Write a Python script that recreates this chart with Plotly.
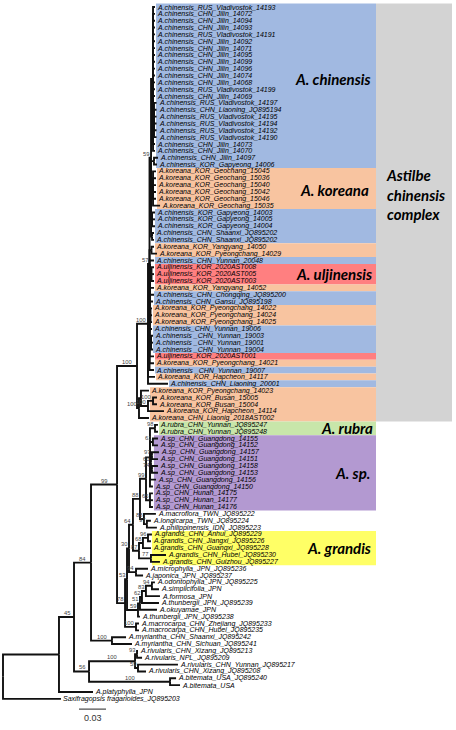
import plotly.graph_objects as go

# ---------------- data ----------------
TIP_LABELS = [
    "A.chinensis_RUS_Vladivostok_14193", "A.chinensis_CHN_Jilin_14072", "A.chinensis_CHN_Jilin_14094",
    "A.chinensis_CHN_Jilin_14093", "A.chinensis_RUS_Vladivostok_14191", "A.chinensis_CHN_Jilin_14092",
    "A.chinensis_CHN_Jilin_14071", "A.chinensis_CHN_Jilin_14095", "A.chinensis_CHN_Jilin_14099",
    "A.chinensis_CHN_Jilin_14096", "A.chinensis_CHN_Jilin_14074", "A.chinensis_CHN_Jilin_14068",
    "A.chinensis_RUS_Vladivostok_14199", "A.chinensis_CHN_Jilin_14069", "A.chinensis_RUS_Vladivostok_14197",
    "A.chinensis_CHN_Liaoning_JQ895194", "A.chinensis_RUS_Vladivostok_14195", "A.chinensis_RUS_Vladivostok_14194",
    "A.chinensis_RUS_Vladivostok_14192", "A.chinensis_RUS_Vladivostok_14190", "A.chinensis_CHN_Jilin_14073",
    "A.chinensis_CHN_Jilin_14070", "A.chinensis_CHN_Jilin_14097", "A.chinensis_KOR_Gapyeong_14006",
    "A.koreana_KOR_Geochang_15045", "A.koreana_KOR_Geochang_15036", "A.koreana_KOR_Geochang_15040",
    "A.koreana_KOR_Geochang_15042", "A.koreana_KOR_Geochang_15046", "A.koreana_KOR_Geochang_15035",
    "A.chinensis_KOR_Gapyeong_14003", "A.chinensis_KOR_Gapyeong_14005", "A.chinensis_KOR_Gapyeong_14004",
    "A.chinensis_CHN_Shaanxi_JQ895202", "A.chinensis_CHN_Shaanxi_JQ895202", "A.koreana_KOR_Yangyang_14050",
    "A.koreana_KOR_Pyeongchang_14029", "A.chinensis_CHN_Yunnan_20048", "A.uljinensis_KOR_2020AST008",
    "A.uljinensis_KOR_2020AST005", "A.uljinensis_KOR_2020AST003", "A.koreana_KOR_Yangyang_14052",
    "A.chinensis_CHN_Chongqing_JQ895200", "A.chinensis_CHN_Gansu_JQ895198", "A.koreana_KOR_Pyeongchang_14022",
    "A.koreana_KOR_Pyeongchang_14024", "A.koreana_KOR_Pyeongchang_14025", "A.chinensis_CHN_Yunnan_19006",
    "A.chinensis _CHN_Yunnan_19003", "A.chinensis _CHN_Yunnan_19001", "A.chinensis _CHN_Yunnan_19004",
    "A.uljinensis_KOR_2020AST001", "A.koreana_KOR_Pyeongchang_14021", "A.chinensis _CHN_Yunnan_19007",
    "A.koreana_KOR_Hapcheon_14117", "A.chinensis_CHN_Liaoning_20001", "A.koreana_KOR_Pyeongchang_14023",
    "A.koreana_KOR_Busan_15005", "A.koreana_KOR_Busan_15004", "A.koreana_KOR_Hapcheon_14114",
    "A.koreana_CHN_Liaonig_2018AST002", "A.rubra_CHN_Yunnan_JQ895247", "A.rubra_CHN_Yunnan_JQ895248",
    "A.sp_CHN_Guangdong_14155", "A.sp_CHN_Guangdong_14152", "A.sp_CHN_Guangdong_14157",
    "A.sp_CHN_Guangdong_14151", "A.sp_CHN_Guangdong_14158", "A.sp_CHN_Guangdong_14153",
    "A.sp_CHN_Guangdong_14156", "A.sp_CHN_Guangdong_14150", "A.sp_CHN_Hunan_14175",
    "A.sp_CHN_Hunan_14177", "A.sp_CHN_Hunan_14176", "A.macroflora_TWN_JQ895222",
    "A.longicarpa_TWN_JQ895224", "A.philippinensis_IDN_JQ895223", "A.grandis_CHN_Anhui_JQ895229",
    "A.grandis_CHN_Jiangxi_JQ895226", "A.grandis_CHN_Guangxi_JQ895228", "A.grandis_CHN_Hubei_JQ895230",
    "A.grandis_CHN_Guizhou_JQ895227", "A.microphylla_JPN_JQ895236", "A.japonica_JPN_JQ895237",
    "A.odontophylla_JPN_JQ895225", "A.simplicifolia_JPN", "A.formosa_JPN",
    "A.thunbergii_JPN_JQ895239", "A.okuyamae_JPN", "A.thunbergii_JPN_JQ895238",
    "A.macrocarpa_CHN_Zhejiang_JQ895233", "A.macrocarpa_CHN_Hubei_JQ895235", "A.myriantha_CHN_Shaanxi_JQ895242",
    "A.myriantha_CHN_Sichuan_JQ895241", "A.rivularis_CHN_Xizang_JQ895213", "A.rivularis_NPL_JQ895209",
    "A.rivularis_CHN_Yunnan_JQ895217", "A.rivularis_CHN_Xizang_JQ895208", "A.bitemata_USA_JQ895240",
    "A.bitemata_USA", "A.platyphylla_JPN", "Saxifragopsis fragarioides_JQ895203",
]

# Newick topology: tips are numbers into TIP_LABELS (1-based), internal labels = bootstrap,
# branch lengths in substitutions/site
TREE_NEWICK = """
((((((((((1:0.0022,2:0.0022,3:0.0022,4:0.0022,5:0.0022,6:0.0022,7:0.0022,8:0.0022,9:0.0022,
10:0.0022,11:0.0022,12:0.0022,13:0.0022,14:0.0022,
(15:0.0028,16:0.0028,17:0.0028,18:0.0028,19:0.0028,20:0.0028):0.0011,21:0.0022,22:0.0022):0.0022,
(23:0.0044,24:0.0033):0.0033,
(25:0.0033,26:0.0033,27:0.0033,28:0.0033,29:0.0033,30:0.0078):0.0022,
(31:0.0033,32:0.0033,33:0.0033):0.0011,
(34:0.0022,35:0.0022):0.0011)59:0.0017,
(36:0.0028,37:0.0061):0.0022,38:0.0050,(39:0.0028,40:0.0028,41:0.0028):0.0022,42:0.0050,43:0.0050,
44:0.0039,(45:0.0017,46:0.0017,47:0.0017):0.0011,48:0.0028,(49:0.0022,50:0.0022,51:0.0022):0.0017,
52:0.0050,53:0.0050,54:0.0050)57:0.0017,
55:0.0078,56:0.0222)100:0.0122,
((57:0.0089,((58:0.0044,59:0.0044)100:0.0056,60:0.0178)100:0.0078):0.0022,61:0.0111)100:0.0022)100:0.0222,
((((((((62:0.0033,63:0.0033)98:0.0056,(64:0.0056,65:0.0056)61:0.0033,
((66:0.0078,67:0.0067)97:0.0011,(68:0.0067,69:0.0067)74:0.0011)60:0.0011,70:0.0067,71:0.0033):0.0044,
(72:0.0033,73:0.0033,74:0.0033)65:0.0044)99:0.0067,
(75:0.0133,(76:0.0044,77:0.0111)97:0.0033)88:0.0044)88:0.0078,
(((78:0.0044,79:0.0033)96:0.0056,80:0.0089)68:0.0044,(81:0.0167,82:0.0100)77:0.0133)87:0.0067)64:0.0044,
(83:0.0133,84:0.0078)94:0.0078)30:0.0022,
(((((85:0.0033,86:0.0078)94:0.0067,87:0.0156)83:0.0044,88:0.0189)62:0.0022,89:0.0189)51:0.0022,
90:0.0022)59:0.0122)53:0.0022,
(91:0.0033,92:0.0033)100:0.0122)78:0.0089)99:0.0289,
(93:0.0156,94:0.0222)100:0.0233)84:0.0189,
(((95:0.0011,96:0.0056)93:0.0022,(97:0.0444,98:0.0089)59:0.0033)100:0.0511,
(99:0.0067,100:0.0111)100:0.0900)56:0.0167)45:0.0167,
101:0.0378):0.0622,
102:0.0644);
"""

# highlighted tip groups (1-based tip numbers, inclusive)
BAND_FIRST = [1, 25, 31, 36, 38, 39, 42, 43, 45, 48, 52, 53, 54, 55, 56, 57, 62, 64, 78]
BAND_LAST = [24, 30, 35, 37, 38, 41, 42, 44, 47, 51, 52, 53, 54, 55, 56, 61, 63, 74, 82]
BAND_TAXON = ["chinensis", "koreana", "chinensis", "koreana", "chinensis", "uljinensis", "koreana",
              "chinensis", "koreana", "chinensis", "uljinensis", "koreana", "chinensis", "koreana",
              "chinensis", "koreana", "rubra", "sp", "grandis"]

CLADE_NAMES = ["A. chinensis", "A. koreana", "A. uljinensis", "A. rubra", "A. sp.", "A. grandis"]
COMPLEX_NAME = ["Astilbe", "chinensis", "complex"]
COMPLEX_FIRST, COMPLEX_LAST = 1, 61
SCALE_BAR = 0.03
SCALE_LABEL = "0.03"

# ---------------- style / layout ----------------
COLORS = {"chinensis": "#A1B9E1", "koreana": "#F8C4A0", "uljinensis": "#FF7F80",
          "rubra": "#C8E6AA", "sp": "#B399D1", "grandis": "#FFFF66"}
GREY = "#D3D3D3"
W, H = 456, 730
PX_PER_UNIT = 900.0
ROOT_PX = 3.0
ROW0_PX = 7.0
ROW_PX = 6.85
BAND_RIGHT_PX = 376
GREY_RIGHT_PX = 452
CLADE_LABEL_ROWS = [10.5, 26.7, 39.0, 61.5, 68.0, 79.0]
CLADE_LABEL_RIGHT_PX = [372, 370, 373, 374, 371, 372]
COMPLEX_ROW = 27.3
COMPLEX_LEFT_PX = 385
SCALE_X0_PX = 79
SCALE_ROW = 102.5


def px2x(px):
    return (px - ROOT_PX) / PX_PER_UNIT


def parse_newick(s):
    s = "".join(s.split())
    pos = [0]

    def token():
        j = pos[0]
        while pos[0] < len(s) and s[pos[0]] not in ",():;":
            pos[0] += 1
        return s[j:pos[0]]

    def node():
        n = {"children": [], "label": "", "bl": 0.0}
        if s[pos[0]] == "(":
            pos[0] += 1
            n["children"].append(node())
            while s[pos[0]] == ",":
                pos[0] += 1
                n["children"].append(node())
            pos[0] += 1
        n["label"] = token()
        if pos[0] < len(s) and s[pos[0]] == ":":
            pos[0] += 1
            n["bl"] = float(token())
        return n

    return node()


tree = parse_newick(TREE_NEWICK)
tips, internals = [], []


def place(n, parent_x, parent):
    n["x"] = parent_x + n["bl"]
    n["parent"] = parent
    if not n["children"]:
        n["y"] = len(tips)
        tips.append(n)
    else:
        for c in n["children"]:
            place(c, n["x"], n)
        n["y"] = (n["children"][0]["y"] + n["children"][-1]["y"]) / 2.0
        internals.append(n)


place(tree, 0.0, None)

# branches
bx, by = [], []
for n in internals:
    for c in n["children"]:
        bx += [c["x"], n["x"], n["x"], None]
        by += [c["y"], c["y"], n["y"], None]

fig = go.Figure()
fig.add_trace(go.Scatter(x=bx, y=by, mode="lines", line=dict(color="#111111", width=1.9),
                         hoverinfo="skip", showlegend=False))

shapes = []
shapes.append(dict(type="rect", xref="x", yref="y", layer="below",
                   x0=px2x(BAND_RIGHT_PX), x1=px2x(GREY_RIGHT_PX),
                   y0=COMPLEX_FIRST - 1.5, y1=COMPLEX_LAST - 0.5,
                   fillcolor=GREY, line=dict(width=0)))
for f, l, t in zip(BAND_FIRST, BAND_LAST, BAND_TAXON):
    left = min(tips[i]["x"] for i in range(f - 1, l)) + 1.0 / PX_PER_UNIT
    shapes.append(dict(type="rect", xref="x", yref="y", layer="below",
                       x0=left, x1=px2x(BAND_RIGHT_PX), y0=f - 1.5, y1=l - 0.5,
                       fillcolor=COLORS[t], line=dict(width=0)))
shapes.append(dict(type="line", xref="x", yref="y",
                   x0=px2x(SCALE_X0_PX), x1=px2x(SCALE_X0_PX) + SCALE_BAR,
                   y0=SCALE_ROW, y1=SCALE_ROW, line=dict(color="#555555", width=1.3)))

ann = []
TIP_FONT = dict(family="Liberation Sans, Arial, sans-serif", size=7, color="#000000")
for t in tips:
    ann.append(dict(x=t["x"], y=t["y"], xref="x", yref="y", text="<i>%s</i>" % TIP_LABELS[int(t["label"]) - 1],
                    showarrow=False, xanchor="left", yanchor="middle", font=TIP_FONT, borderpad=0, xshift=1))

BS_SIZE = 5.8
BS_FONT = dict(family="Liberation Sans, Arial, sans-serif", size=BS_SIZE, color="#444444")
for n in internals:
    if not n["label"] or n["parent"] is None:
        continue
    px_len = (n["x"] - n["parent"]["x"]) * PX_PER_UNIT
    w = len(n["label"]) * 0.56 * BS_SIZE
    if px_len >= w + 3:
        ann.append(dict(x=(n["x"] + n["parent"]["x"]) / 2, y=n["y"], xref="x", yref="y", text=n["label"],
                        showarrow=False, xanchor="center", yanchor="middle", yshift=4, font=BS_FONT, borderpad=0))
    else:
        ann.append(dict(x=n["x"], y=n["y"], xref="x", yref="y", text=n["label"], showarrow=False,
                        xanchor="right", yanchor="middle", yshift=4, xshift=-1, font=BS_FONT, borderpad=0))

BIG_FONT = dict(family="Lato, Carlito, sans-serif", size=15, color="#000000")
for name, row, rpx in zip(CLADE_NAMES, CLADE_LABEL_ROWS, CLADE_LABEL_RIGHT_PX):
    ann.append(dict(x=px2x(rpx), y=row, xref="x", yref="y", text="<b><i>%s</i></b>" % name,
                    showarrow=False, xanchor="right", yanchor="middle", font=BIG_FONT, borderpad=0))
ann.append(dict(x=px2x(COMPLEX_LEFT_PX), y=COMPLEX_ROW, xref="x", yref="y",
                text="<b><i>%s</i></b>" % "<br>".join(COMPLEX_NAME), align="left",
                showarrow=False, xanchor="left", yanchor="middle", font=BIG_FONT, borderpad=0))
ann.append(dict(x=px2x(SCALE_X0_PX) + SCALE_BAR / 2, y=SCALE_ROW, xref="x", yref="y", text=SCALE_LABEL,
                showarrow=False, xanchor="center", yanchor="top", yshift=-2,
                font=dict(family="Liberation Sans, Arial, sans-serif", size=9, color="#333333")))

fig.update_layout(
    width=W, height=H, autosize=False,
    margin=dict(l=0, r=0, t=0, b=0, pad=0),
    paper_bgcolor="white", plot_bgcolor="white",
    xaxis=dict(range=[px2x(0), px2x(W)], visible=False, fixedrange=True),
    yaxis=dict(range=[(H - ROW0_PX) / ROW_PX, -ROW0_PX / ROW_PX], visible=False, fixedrange=True),
    shapes=shapes, annotations=ann, showlegend=False,
)

fig.write_html("out.html", config={"displayModeBar": False, "staticPlot": True},
               post_script="document.body.style.margin='0px';document.body.style.overflow='hidden';")
